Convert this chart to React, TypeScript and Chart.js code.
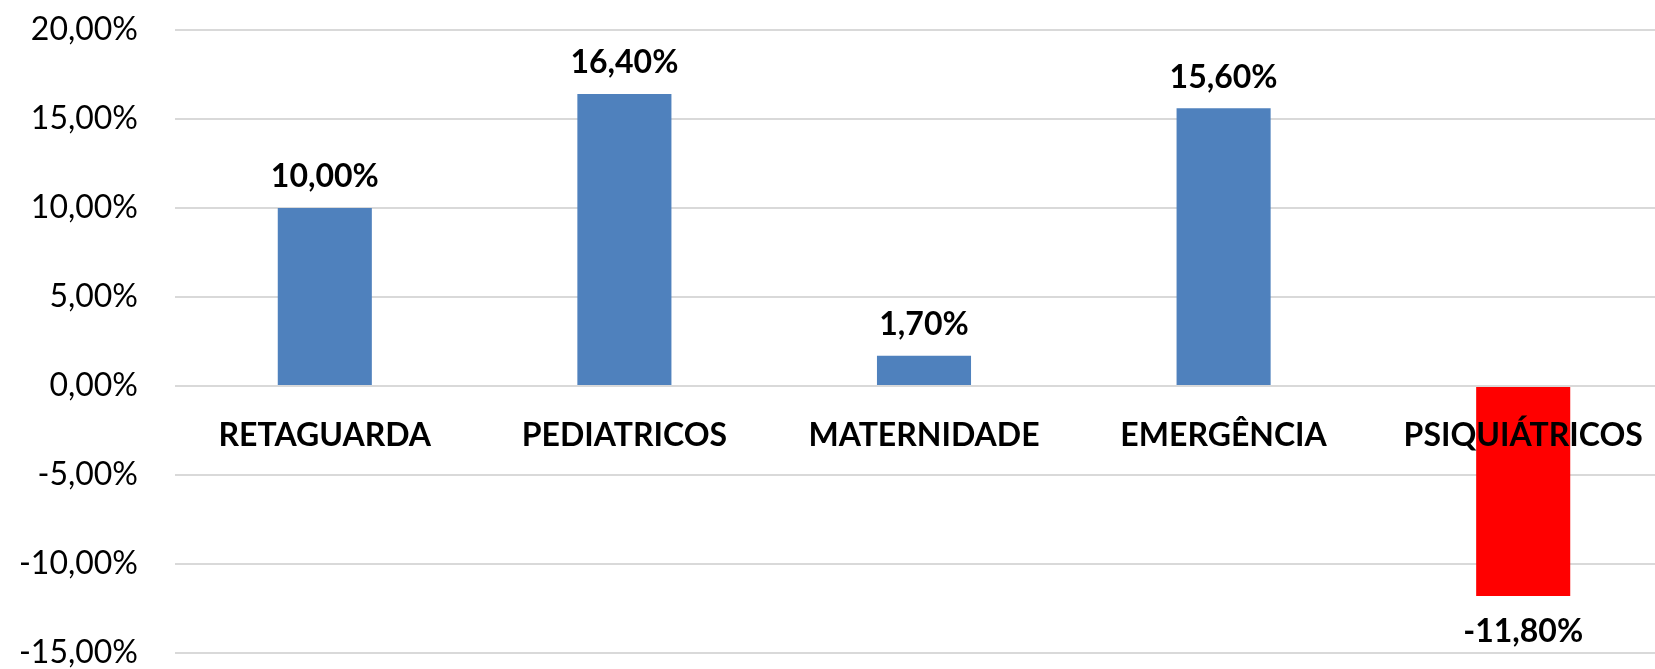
import React, { useEffect, useRef } from "react";
import { Chart, registerables } from "chart.js";

Chart.register(...registerables);

const categories: string[] = ["RETAGUARDA", "PEDIATRICOS", "MATERNIDADE", "EMERGÊNCIA", "PSIQUIÁTRICOS"];
const values: number[] = [10.0, 16.4, 1.7, 15.6, -11.8];
const barColors: string[] = ["#4F81BD", "#4F81BD", "#4F81BD", "#4F81BD", "#FF0000"];
const yMin = -15;
const yMax = 20;
const yStep = 5;

const fmt = (v: number) => v.toFixed(2).replace(".", ",") + "%";

const labelsPlugin = {
  id: "customLabels",
  afterDatasetsDraw(chart: any) {
    const ctx = chart.ctx;
    const meta = chart.getDatasetMeta(0);
    const y0 = chart.scales.y.getPixelForValue(0);
    ctx.save();
    ctx.fillStyle = "#000000";
    ctx.textAlign = "center";
    ctx.textBaseline = "middle";
    ctx.font = "bold 32px Lato";
    meta.data.forEach((bar: any, i: number) => {
      const v = values[i];
      const { x, y } = bar.getProps(["x", "y"], true);
      ctx.fillText(fmt(v), x, v >= 0 ? y - 31 : y + 36);
      ctx.fillText(categories[i], x, y0 + 50);
    });
    ctx.restore();
  },
};

export default function App() {
  const ref = useRef<HTMLCanvasElement | null>(null);
  useEffect(() => {
    if (!ref.current) return;
    const chart = new Chart(ref.current, {
      type: "bar",
      data: {
        labels: categories,
        datasets: [
          {
            data: values,
            backgroundColor: barColors,
            borderWidth: 0,
            categoryPercentage: 0.314,
            barPercentage: 1,
          },
        ],
      },
      options: {
        animation: false,
        responsive: true,
        maintainAspectRatio: false,
        layout: { padding: { top: 30, bottom: 47, left: 0, right: 7 } },
        plugins: { legend: { display: false }, tooltip: { enabled: false } },
        scales: {
          x: { display: false },
          y: {
            min: yMin,
            max: yMax,
            border: { display: false },
            grid: {
              color: "#D9D9D9",
              lineWidth: 2,
              drawTicks: true,
              tickLength: 37,
              tickColor: "rgba(0,0,0,0)",
            },
            ticks: {
              stepSize: yStep,
              padding: 0,
              color: "#000000",
              font: { family: "Lato", size: 32 },
              callback: (v: any) => fmt(Number(v)),
            },
            afterFit: (scale: any) => {
              scale.width = 175;
            },
          },
        },
      },
      plugins: [labelsPlugin],
    });
    return () => chart.destroy();
  }, []);
  return (
    <div style={{ position: "fixed", left: 0, top: 0, width: 1655, height: 669, overflow: "hidden", background: "#fff" }}>
      <div style={{ position: "absolute", left: 0, top: 0, width: 1680, height: 700 }}>
        <canvas ref={ref} />
      </div>
    </div>
  );
}
